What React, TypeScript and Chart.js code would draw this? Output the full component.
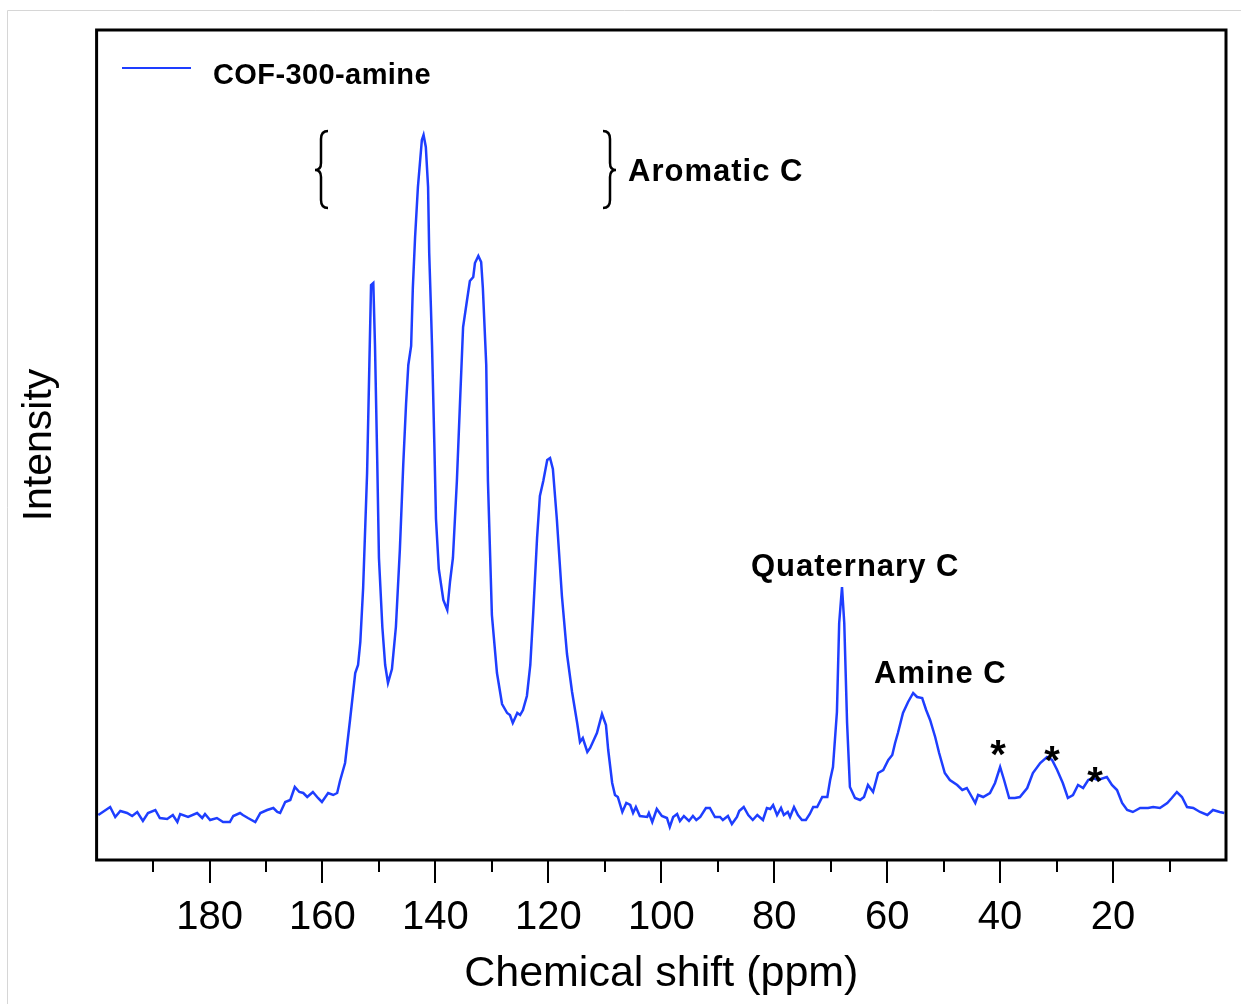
import React, { useEffect, useRef } from 'react';
import { Chart, registerables } from 'chart.js';

Chart.register(...registerables);

const FONT = '"Liberation Sans", Arial, Helvetica, sans-serif';

const seriesLabel = 'COF-300-amine';
const xTitle = 'Chemical shift (ppm)';
const yTitle = 'Intensity';
const majorTicks = [180, 160, 140, 120, 100, 80, 60, 40, 20];
const minorTicks = [190, 170, 150, 130, 110, 90, 70, 50, 30, 10];

const shiftPpm = [
  199.7, 197.6, 196.7, 195.8, 194.6, 193.7, 192.8, 191.8, 190.9, 189.6,
  188.8, 187.5, 186.5, 185.7, 185.2, 183.8, 182.2, 181.3, 180.8, 179.9,
  178.7, 177.6, 176.4, 175.8, 174.6, 174.1, 173.2, 171.9, 171.0, 169.8,
  168.7, 168.0, 167.5, 166.6, 165.7, 164.9, 164.1, 163.4, 162.7, 161.7,
  160.8, 160.1, 159.0, 158.1, 157.4, 156.9, 156.0, 155.1, 154.2, 153.7,
  153.3, 152.8, 152.1, 151.7, 151.4, 151.0, 150.7, 150.3, 150.0, 149.4,
  148.9, 148.4, 147.7, 147.0, 146.3, 145.7, 145.2, 144.8, 144.3, 144.0,
  143.6, 143.1, 142.4, 142.1, 141.7, 141.3, 141.1, 140.8, 140.6, 140.2,
  139.9, 139.4, 138.6, 137.9, 137.4, 136.9, 136.2, 135.6, 135.1, 134.4,
  133.9, 133.3, 133.0, 132.4, 131.9, 131.6, 131.0, 130.7, 130.0, 129.1,
  128.2, 127.3, 126.8, 126.3, 125.5, 125.0, 124.5, 123.8, 123.2, 122.7,
  122.0, 121.5, 120.9, 120.2, 119.7, 119.2, 118.5, 117.6, 116.7, 115.8,
  114.9, 114.4, 113.9, 113.1, 112.6, 111.4, 110.5, 109.8, 109.4, 108.7,
  108.2, 107.7, 106.9, 106.2, 105.5, 105.0, 104.5, 103.8, 102.5, 102.2,
  101.6, 100.8, 99.9, 99.0, 98.5, 97.9, 97.2, 96.7, 96.0, 95.1,
  94.4, 93.8, 93.1, 92.1, 91.4, 90.5, 89.6, 89.1, 88.2, 87.5,
  86.6, 86.2, 85.4, 84.6, 83.8, 83.0, 82.0, 81.3, 80.7, 80.2,
  79.5, 78.8, 78.3, 77.6, 77.2, 76.5, 75.8, 75.1, 74.4, 73.7,
  73.1, 72.4, 71.5, 70.6, 70.1, 69.6, 68.9, 68.5, 68.0, 67.6,
  67.1, 66.6, 65.7, 64.8, 64.1, 63.4, 62.5, 61.6, 60.7, 59.8,
  59.1, 58.6, 58.1, 57.2, 56.3, 55.4, 54.7, 53.8, 53.1, 52.4,
  51.5, 50.8, 49.8, 48.9, 47.6, 46.7, 45.9, 45.0, 44.4, 43.9,
  43.0, 41.8, 40.9, 40.0, 39.3, 38.4, 37.4, 36.5, 35.2, 34.2,
  32.9, 31.7, 30.8, 29.9, 28.9, 28.0, 27.1, 26.2, 25.3, 24.4,
  23.6, 22.7, 21.1, 20.2, 19.3, 18.4, 17.5, 16.5, 15.2, 13.8,
  12.9, 11.7, 10.4, 9.6, 8.7, 7.8, 6.9, 5.8, 4.6, 3.3,
  2.3, 1.1, 0.3,
];

const intensity = [
  45, 53, 43, 49, 47, 44, 48, 39, 47, 50,
  42, 41, 45, 38, 46, 43, 47, 42, 46, 40,
  42, 38, 38, 44, 47, 45, 42, 38, 47, 50,
  52, 48, 47, 58, 60, 73, 68, 67, 63, 68,
  62, 58, 67, 65, 67, 79, 97, 141, 187, 195,
  218, 272, 387, 495, 575, 577, 514, 398, 302, 233,
  195, 177, 191, 233, 310, 395, 456, 495, 514, 572,
  623, 673, 720, 725, 713, 673, 607, 553, 514, 418,
  341, 291, 260, 250, 279, 302, 379, 464, 533, 560,
  579, 583, 597, 604, 598, 572, 495, 379, 245, 187,
  156, 147, 145, 137, 147, 145, 150, 164, 195, 245,
  322, 364, 379, 400, 402, 391, 341, 264, 206, 168,
  137, 118, 122, 108, 112, 127, 146, 135, 110, 77,
  65, 63, 48, 57, 55, 47, 53, 44, 43, 47,
  38, 51, 44, 42, 33, 43, 46, 39, 44, 39,
  44, 40, 43, 52, 52, 43, 43, 40, 44, 36,
  43, 49, 53, 45, 40, 45, 40, 52, 51, 55,
  45, 52, 45, 48, 43, 53, 45, 40, 40, 46,
  53, 53, 63, 63, 80, 93, 148, 237, 273, 237,
  137, 73, 62, 60, 63, 75, 68, 87, 90, 100,
  105, 117, 127, 147, 158, 167, 163, 162, 150, 140,
  123, 107, 87, 80, 75, 70, 72, 63, 57, 65,
  63, 67, 77, 93, 80, 62, 62, 63, 72, 87,
  97, 103, 100, 90, 77, 62, 65, 75, 72, 80,
  82, 80, 83, 75, 70, 57, 50, 48, 52, 52,
  53, 52, 57, 62, 68, 63, 53, 52, 48, 45,
  50, 48, 47,
];

const LINE_COLOR = 'rgb(30, 62, 255)';

const overlayPlugin = {
  id: 'overlay',
  beforeDraw(chart: any) {
    const { ctx, width, height } = chart;
    ctx.save();
    ctx.fillStyle = '#ffffff';
    ctx.fillRect(0, 0, width, height);
    ctx.strokeStyle = '#d6d6d6';
    ctx.lineWidth = 1;
    ctx.beginPath();
    ctx.moveTo(7.5, height);
    ctx.lineTo(7.5, 10.5);
    ctx.lineTo(width, 10.5);
    ctx.stroke();
    ctx.restore();
  },
  afterDraw(chart: any) {
    const { ctx, chartArea: a, scales } = chart;
    const xs = scales.x;
    ctx.save();
    ctx.strokeStyle = '#000';
    ctx.lineWidth = 3;
    ctx.strokeRect(a.left, a.top, a.right - a.left, a.bottom - a.top);

    ctx.lineWidth = 2;
    ctx.beginPath();
    majorTicks.forEach((v) => {
      const px = Math.round(xs.getPixelForValue(v));
      ctx.moveTo(px, a.bottom + 1);
      ctx.lineTo(px, a.bottom + 23);
    });
    minorTicks.forEach((v) => {
      const px = Math.round(xs.getPixelForValue(v));
      ctx.moveTo(px, a.bottom + 1);
      ctx.lineTo(px, a.bottom + 12);
    });
    ctx.stroke();

    // legend
    ctx.strokeStyle = LINE_COLOR;
    ctx.lineWidth = 2;
    ctx.beginPath();
    ctx.moveTo(122, 68);
    ctx.lineTo(191, 68);
    ctx.stroke();
    ctx.fillStyle = '#000';
    ctx.textAlign = 'left';
    ctx.textBaseline = 'alphabetic';
    ctx.font = `bold 29px ${FONT}`;
    try { (ctx as any).letterSpacing = '0.4px'; } catch (e) { /* ignore */ }
    ctx.fillText(seriesLabel, 213, 84);

    // annotations
    ctx.font = `bold 31px ${FONT}`;
    try { (ctx as any).letterSpacing = '1px'; } catch (e) { /* ignore */ }
    ctx.fillText('Aromatic C', 628, 181);
    ctx.fillText('Quaternary C', 751, 576);
    ctx.fillText('Amine C', 874, 683);
    try { (ctx as any).letterSpacing = '0px'; } catch (e) { /* ignore */ }

    ctx.font = `bold 40px ${FONT}`;
    ctx.textAlign = 'center';
    ctx.fillText('*', 998, 768);
    ctx.fillText('*', 1052, 774);
    ctx.fillText('*', 1095, 795);

    // braces
    ctx.strokeStyle = '#000';
    ctx.lineWidth = 2.5;
    ctx.beginPath();
    ctx.moveTo(328, 131);
    ctx.quadraticCurveTo(321, 131, 321, 139);
    ctx.lineTo(321, 163);
    ctx.quadraticCurveTo(321, 170, 315, 170);
    ctx.quadraticCurveTo(321, 170, 321, 177);
    ctx.lineTo(321, 200);
    ctx.quadraticCurveTo(321, 208, 328, 208);
    ctx.stroke();

    ctx.beginPath();
    ctx.moveTo(603, 131);
    ctx.quadraticCurveTo(610, 131, 610, 139);
    ctx.lineTo(610, 163);
    ctx.quadraticCurveTo(610, 170, 616, 170);
    ctx.quadraticCurveTo(610, 170, 610, 177);
    ctx.lineTo(610, 200);
    ctx.quadraticCurveTo(610, 208, 603, 208);
    ctx.stroke();
    ctx.restore();
  },
};

export default function App() {
  const canvasRef = useRef<HTMLCanvasElement | null>(null);

  useEffect(() => {
    const canvas = canvasRef.current;
    if (!canvas) return;
    const points = shiftPpm.map((x, i) => ({ x, y: intensity[i] }));
    const chart = new Chart(canvas, {
      type: 'line',
      data: {
        datasets: [
          {
            label: seriesLabel,
            data: points,
            borderColor: LINE_COLOR,
            borderWidth: 2.5,
            pointRadius: 0,
            tension: 0,
            fill: false,
          },
        ],
      },
      options: {
        responsive: false,
        animation: false,
        devicePixelRatio: 1,
        layout: { padding: { left: 0, right: 15, top: 30, bottom: 0 } },
        plugins: {
          legend: { display: false },
          tooltip: { enabled: false },
        },
        scales: {
          x: {
            type: 'linear',
            reverse: true,
            min: 0,
            max: 200,
            grid: { display: false, drawTicks: true, tickLength: 34 },
            border: { display: false },
            ticks: {
              stepSize: 20,
              autoSkip: false,
              maxRotation: 0,
              minRotation: 0,
              padding: 0,
              color: '#000',
              font: { size: 40, family: FONT },
              callback: (v: any) => (majorTicks.includes(Number(v)) ? String(v) : ''),
            },
            title: {
              display: true,
              text: xTitle,
              color: '#000',
              font: { size: 43, family: FONT },
              padding: { top: 6.4, bottom: 4 },
            },
          },
          y: {
            type: 'linear',
            min: 0,
            max: 830,
            grid: { display: false, drawTicks: false },
            border: { display: false },
            ticks: { display: false },
            title: {
              display: true,
              text: yTitle,
              color: '#000',
              font: { size: 41, family: FONT },
              padding: { top: 15.4, bottom: 32 },
            },
          },
        },
      },
      plugins: [overlayPlugin],
    });
    return () => chart.destroy();
  }, []);

  return (
    <div style={{ position: 'fixed', left: 0, top: 0, width: 1241, height: 1004, background: '#fff' }}>
      <canvas ref={canvasRef} width={1241} height={1004} style={{ display: 'block', width: 1241, height: 1004 }} />
    </div>
  );
}
